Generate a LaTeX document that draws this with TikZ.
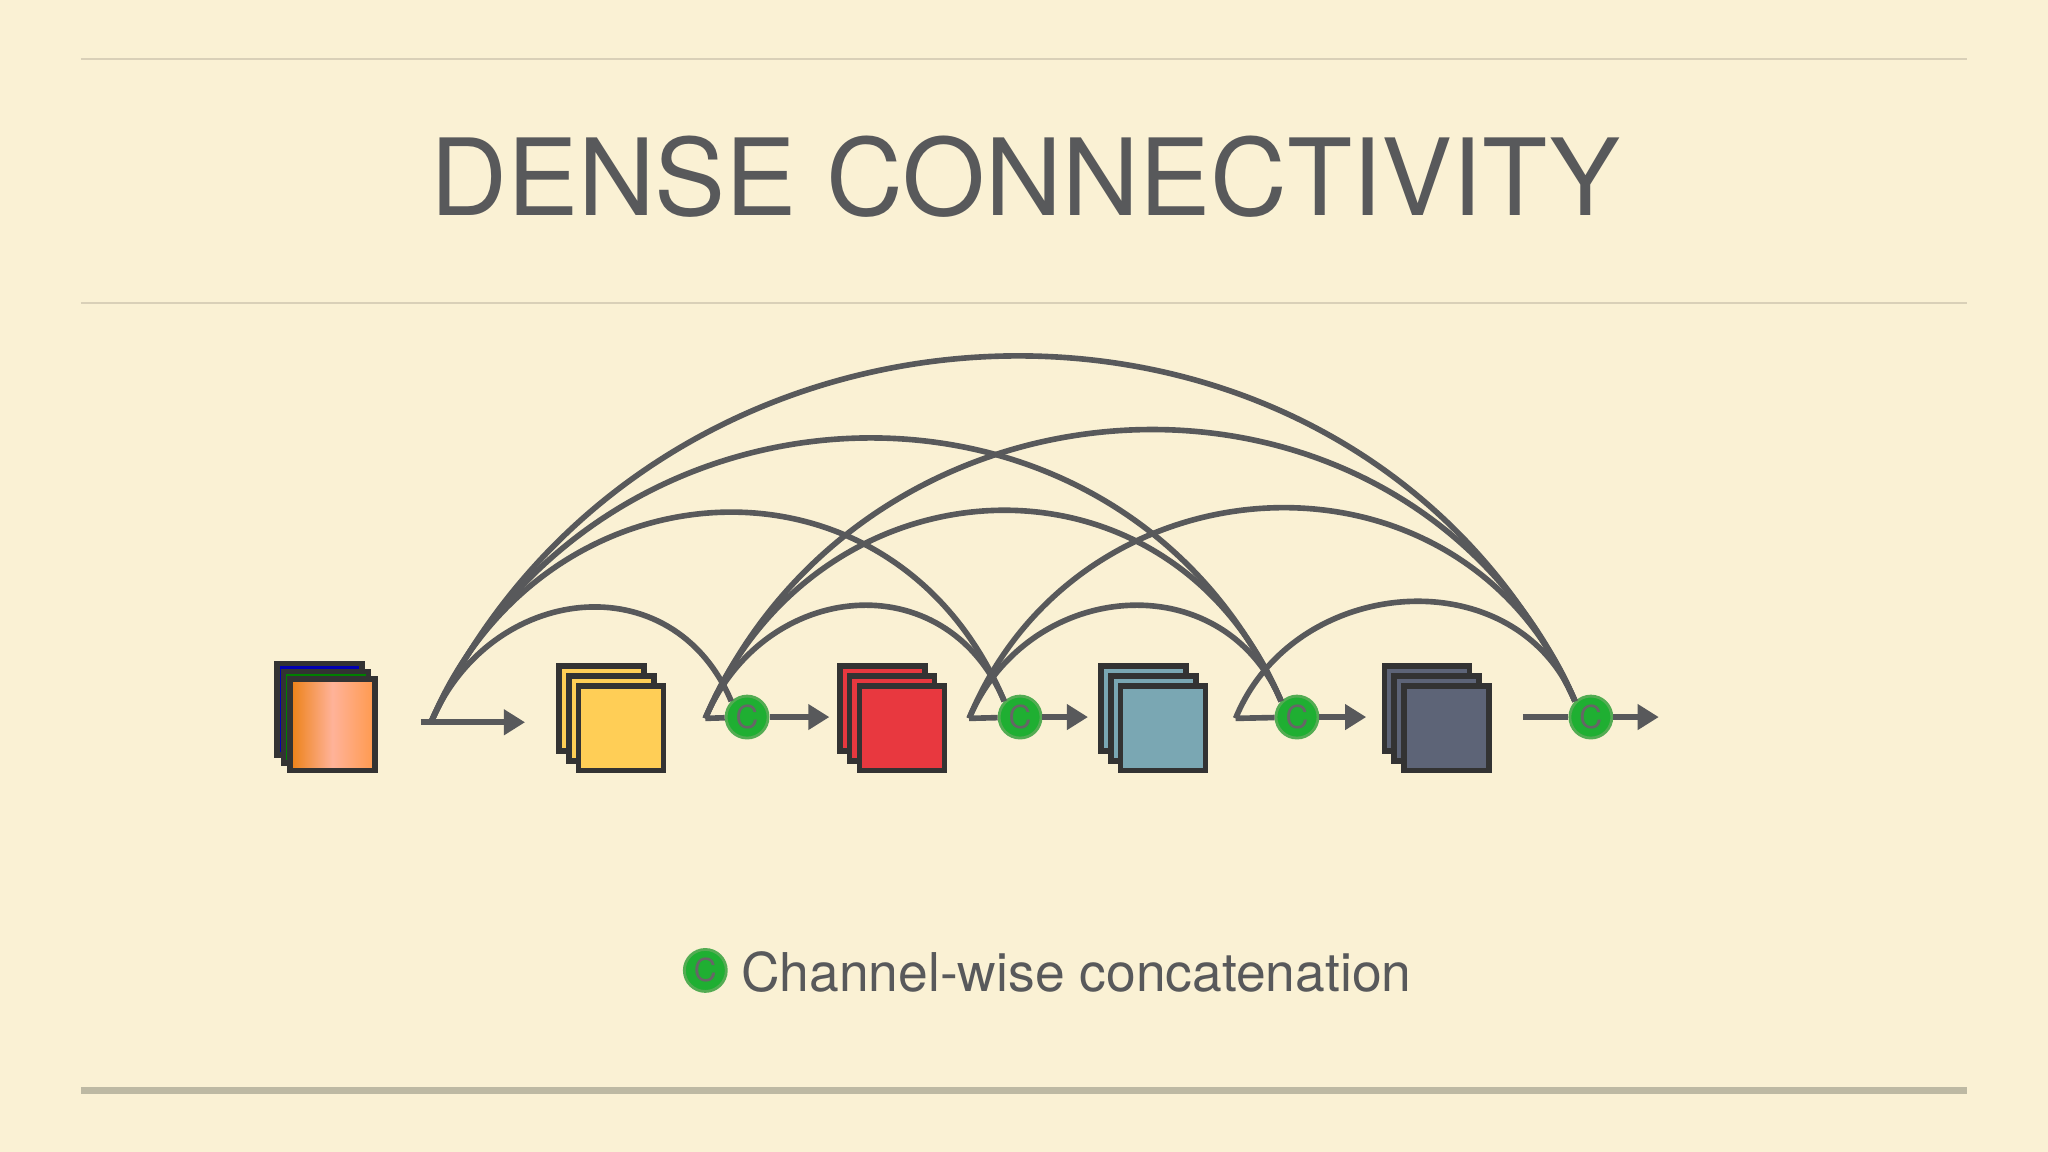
\documentclass[tikz,border=0pt]{standalone}
\usepackage{fontspec}
\setmainfont{TeX Gyre Heros}
\usetikzlibrary{arrows.meta,calc}
\definecolor{paper}{HTML}{FAF1D4}
\definecolor{ink}{HTML}{58595B}
\definecolor{rule}{HTML}{D9D0B8}
\definecolor{baserule}{HTML}{BDB9A3}
\definecolor{catgreen}{HTML}{1FAF32}
\definecolor{fyellow}{HTML}{FFCE56}
\definecolor{fred}{HTML}{E8383F}
\definecolor{fteal}{HTML}{7AA7B3}
\definecolor{fdark}{HTML}{5D6477}
\tikzset{%
    fmap/.style={inner sep=0pt,outer sep=0pt,shape=rectangle,draw=black!80,line width=1.6pt,minimum width=0.849cm,minimum height=0.849cm},
    concat/.style={circle,fill=catgreen,draw=green!35!gray,line width=0.8pt,minimum size=0.42cm,inner sep=0pt,font=\fontsize{9}{9}\selectfont,text=black!60},
    flow/.style={-{Triangle[length=6pt,width=7pt]},ink,line width=1.6pt},
    skip/.style={ink,line width=1.6pt},
}
\begin{document}
\begin{tikzpicture}[x=0.01306cm,y=-0.01306cm]
        \fill[paper] (0,0) rectangle (1568,882);
        \useasboundingbox (0,0) rectangle (1568,882);
        \draw[rule,line width=0.5pt] (62,45) -- (1506,45);
        \draw[rule,line width=0.5pt] (62,232) -- (1506,232);
        \draw[baserule,line width=2pt] (62,835) -- (1506,835);
        \node[text=ink,font=\fontsize{30.3}{30.3}\selectfont] (title) at (785,135) {DENSE CONNECTIVITY};

        % input image stack
        \node[fmap,fill=blue!70!black,minimum height=0.914cm,anchor=north west] (in3) at (212,508) {};
        \node[fmap,fill=green!50!black,minimum height=0.914cm,anchor=north west] (in2) at (217,514) {};
        \node[fmap,minimum height=0.914cm,anchor=north west,left color=orange!70!brown,right color=orange!60!pink,middle color=pink!80!orange] (in1) at (222,520) {};

        % feature map stacks
        \foreach \x/\c [count=\i] in {428/fyellow,643/fred,843/fteal,1060/fdark} {
            \node[fmap,fill=\c,anchor=north west] (f\i c) at (\x,510) {};
            \node[fmap,fill=\c,anchor=north west] (f\i b) at (\x+7.5,517.5) {};
            \node[fmap,fill=\c,anchor=north west] (f\i a) at (\x+15,525) {};
        }

        % concatenation points
        \node[concat] (c1) at (572,549) {C};
        \node[concat] (c2) at (781,549) {C};
        \node[concat] (c3) at (993,549) {C};
        \node[concat] (c4) at (1218,549) {C};
        \coordinate (s0) at (330,553);
        \coordinate (s1) at (540,550);
        \coordinate (s2) at (742,550);
        \coordinate (s3) at (946,550);

        % forward path
        \coordinate (e0) at (402,553);
        \coordinate (e1) at (635,549);
        \coordinate (e2) at (833,549);
        \coordinate (e3) at (1046,549);
        \coordinate (e4) at (1270,549);
        \draw[flow] (322,553) -- (e0);
        \draw[flow] (c1) -- (e1);
        \draw[flow] (c2) -- (e2);
        \draw[flow] (c3) -- (e3);
        \draw[flow] (c4) -- (e4);
        \draw[skip] (s1) -- (c1);
        \draw[skip] (s2) -- (c2);
        \draw[skip] (s3) -- (c3);
        \draw[skip] (1166,549) -- (c4);

        % dense skip connections
        \foreach \a/\b/\h/\d in {0/1/80/45, 0/2/153/85, 0/3/210/125, 0/4/273/170,
                                 1/2/80/45, 1/3/153/85, 1/4/215/125,
                                 2/3/80/45, 2/4/155/85,
                                 3/4/83/45} {
            \draw[skip] (s\a) .. controls +(\d,-1.33*\h) and +(-\d,-1.33*\h) .. (c\b.135);
        }

        % legend
        \node[concat] (key) at (540,743) {C};
        \node[text=ink,anchor=west,font=\fontsize{15.2}{15.2}\selectfont] (keytext) at (558,744) {Channel-wise concatenation};
\end{tikzpicture}
\end{document}
